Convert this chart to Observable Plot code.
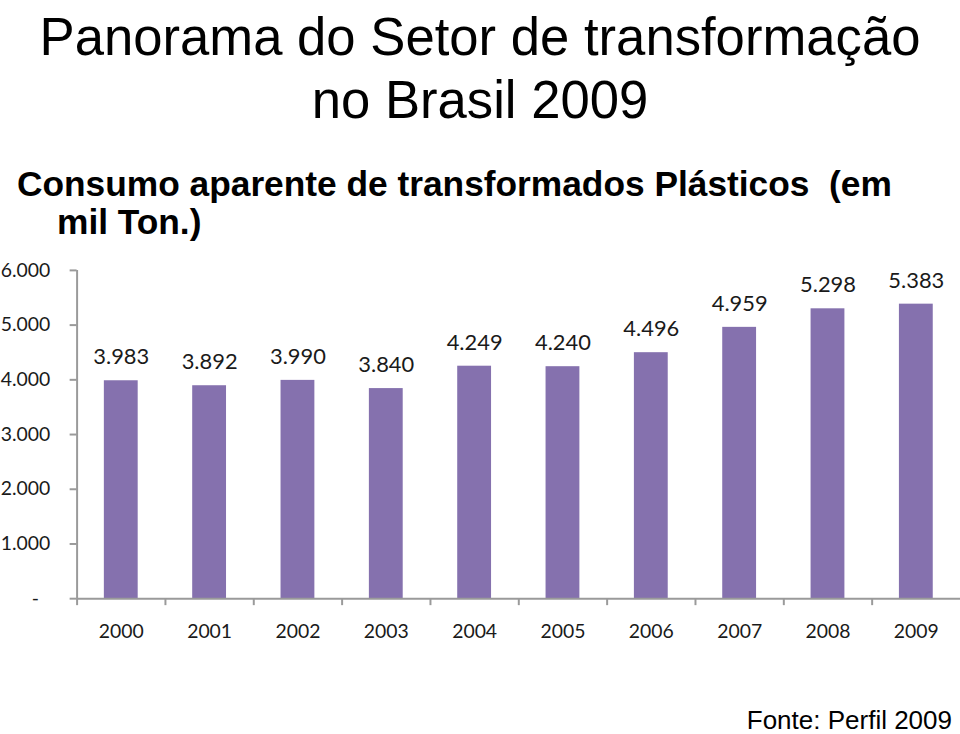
<!DOCTYPE html>
<html>
<head>
<meta charset="utf-8">
<script src="https://cdn.jsdelivr.net/npm/d3@7"></script>
<script src="https://cdn.jsdelivr.net/npm/@observablehq/plot@0.6"></script>
<style>
  html, body { margin: 0; padding: 0; background: #fff; }
  #page { position: relative; width: 960px; height: 734px; overflow: hidden; background: #fff; }
  #title { position: absolute; top: 5px; left: 0; width: 960px; text-align: center;
    font-family: "Liberation Sans", Arial, sans-serif; font-size: 54px; line-height: 63px; color: #000;
    transform: scaleX(0.975); transform-origin: 480px 0; }
  #subtitle { position: absolute; top: 165px; left: 17px; width: 940px;
    font-family: "Liberation Sans", Arial, sans-serif; font-weight: bold; font-size: 35.3px; line-height: 38px; color: #000; }
  #subtitle .l2 { padding-left: 40px; }
  #chart { position: absolute; top: 250px; left: 0; }
  #source { position: absolute; top: 709px; right: 8px;
    font-family: "Liberation Sans", Arial, sans-serif; font-size: 26px; line-height: 22px; color: #000; }
</style>
</head>
<body>
<div id="page">
  <div id="title">Panorama do Setor de transformação<br>no Brasil 2009</div>
  <div id="subtitle">Consumo aparente de transformados Plásticos&nbsp; (em<br><span class="l2">mil Ton.)</span></div>
  <div id="chart"></div>
  <div id="source">Fonte: Perfil 2009</div>
</div>
<script>
const years = ["2000","2001","2002","2003","2004","2005","2006","2007","2008","2009"];
const values = [3983, 3892, 3990, 3840, 4249, 4240, 4496, 4959, 5298, 5383];
const yTicks = [0, 1000, 2000, 3000, 4000, 5000, 6000];

const data = years.map((year, i) => ({year, value: values[i]}));
const ptBR = d3.formatLocale({decimal: ",", thousands: ".", grouping: [3], currency: ["", ""]});
const fmt = ptBR.format(",");
const yFmt = d => d === 0 ? "-\u2007" : fmt(d);

const W = 965, ML = 77, MR = 0;
const step = (W - ML - MR) / years.length;
const axisGray = "#9a9a9a";

const chart = Plot.plot({
  width: W,
  height: 410,
  marginLeft: ML,
  marginRight: MR,
  marginTop: 20,
  marginBottom: 60,
  style: {fontFamily: "Lato, 'Open Sans', sans-serif", fontSize: "19.5px", color: "#222", background: "transparent"},
  x: {type: "band", domain: years, paddingInner: 0.617, paddingOuter: 0.3085, align: 0.5, round: false, axis: null, label: null},
  y: {domain: [0, 6000], axis: null, label: null},
  marks: [
    Plot.barY(data, {x: "year", y: "value", fill: "#8571AE"}),
    Plot.ruleY([0], {stroke: axisGray, strokeWidth: 2}),
    Plot.ruleX([years[0]], {y1: 0, y2: 6000, dx: -step / 2, stroke: axisGray, strokeWidth: 2}),
    Plot.axisY({ticks: yTicks, tickSize: 7, tickPadding: 20, tickFormat: yFmt, stroke: axisGray, strokeWidth: 2, fill: "#1a1a1a", fontSize: 19.5, label: null}),
    Plot.axisX({tickSize: 7, tickPadding: 0, tickFormat: () => "", dx: -step / 2, stroke: axisGray, strokeWidth: 2, label: null}),
    Plot.axisX({tickSize: 0, tickPadding: 26, fill: "#1a1a1a", fontSize: 19.5, label: null}),
    Plot.text(data, {x: "year", y: "value", text: d => fmt(d.value), dy: -23.5, fontSize: 22, fill: "#1a1a1a"})
  ]
});
document.getElementById("chart").appendChild(chart);
</script>
</body>
</html>
